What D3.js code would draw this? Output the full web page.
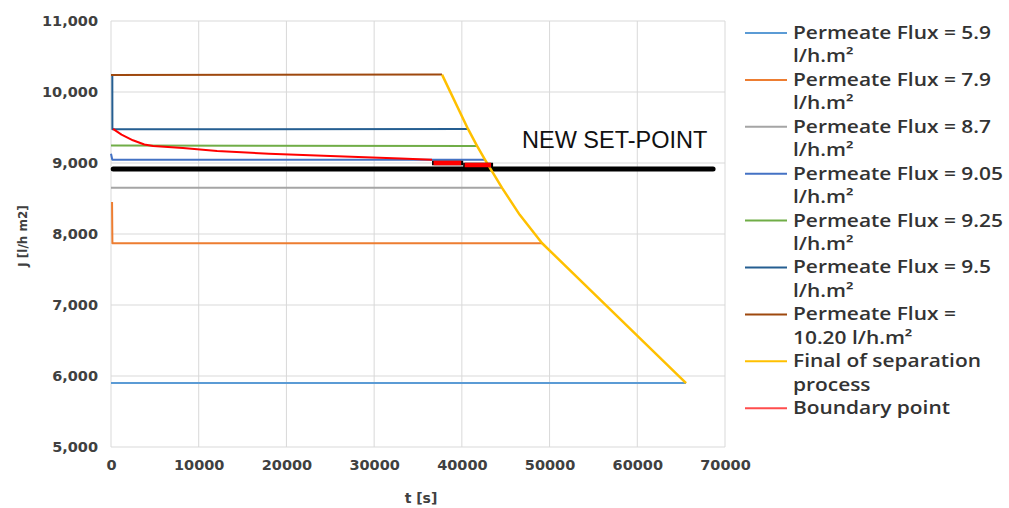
<!DOCTYPE html>
<html>
<head>
<meta charset="utf-8">
<script src="https://cdn.jsdelivr.net/npm/d3@7"></script>
<style>
  body { margin: 0; background: #fff; }
  svg { display: block; }
</style>
</head>
<body>
<div id="chart"></div>
<script>
// axis ticks
const tTicks = [0, 10000, 20000, 30000, 40000, 50000, 60000, 70000];
const jTicks = [5000, 6000, 7000, 8000, 9000, 10000, 11000];

// series, [t (s), J (l/h m2)]
const flux59 = [[0, 5900], [65560, 5900]];
const flux79 = [[120, 8450], [160, 7870], [49150, 7870]];
const flux87 = [[0, 8650], [44580, 8650]];
const flux905 = [[0, 9130], [150, 9045], [42650, 9045]];
const flux925 = [[0, 9245], [41730, 9240]];
const flux95 = [[150, 10240], [160, 9475], [40700, 9480]];
const flux102 = [[0, 10240], [37740, 10245]];
const finalSep = [[37740, 10245], [40700, 9480], [41730, 9240], [42650, 9045], [44580, 8650], [46600, 8270], [49150, 7870], [65560, 5900]];
const boundary = [[230, 9480], [1200, 9400], [2500, 9320], [3800, 9260], [4800, 9240], [8200, 9210],
  [12100, 9170], [18000, 9130], [25000, 9100], [33000, 9065], [36600, 9045]];
const boundaryBars = [[[36600, 9000], [40150, 9000]], [[40150, 8972], [43560, 8972]]];
const setPoint = [[250, 8915], [68640, 8915]];

const seriesNames = ['Permeate Flux = 5.9', 'Permeate Flux = 7.9', 'Permeate Flux = 8.7',
  'Permeate Flux = 9.05', 'Permeate Flux = 9.25', 'Permeate Flux = 9.5', 'Permeate Flux =',
  'Final of separation', 'Boundary point'];
const seriesSub = ['l/h.m²', 'l/h.m²', 'l/h.m²', 'l/h.m²', 'l/h.m²', 'l/h.m²', '10.20 l/h.m²', 'process', ''];
const seriesColors = ['#5B9BD5', '#ED7D31', '#A5A5A5', '#4472C4', '#70AD47', '#255E91', '#9E480E', '#FFC000', '#FF4D4D'];
const seriesData = [flux59, flux79, flux87, flux905, flux925, flux95, flux102, finalSep, boundary];

const width = 1009, height = 508;
const plotLeft = 111, plotRight = 725, plotTop = 21, plotBottom = 447;

const svg = d3.select('#chart').append('svg')
  .attr('width', width)
  .attr('height', height);

const x = d3.scaleLinear().domain([0, 70000]).range([plotLeft, plotRight]);
const y = d3.scaleLinear().domain([5000, 11000]).range([plotBottom, plotTop]);

// grid
svg.append('g').selectAll('line.h').data(jTicks).enter().append('line')
  .attr('x1', plotLeft).attr('x2', plotRight)
  .attr('y1', d => y(d)).attr('y2', d => y(d))
  .attr('stroke', '#d9d9d9').attr('stroke-width', 1);
svg.append('g').selectAll('line.v').data(tTicks).enter().append('line')
  .attr('x1', d => x(d)).attr('x2', d => x(d))
  .attr('y1', plotTop).attr('y2', plotBottom)
  .attr('stroke', '#d9d9d9').attr('stroke-width', 1);

// axes (labels only)
const yAxis = svg.append('g')
  .attr('transform', 'translate(' + plotLeft + ',0)')
  .call(d3.axisLeft(y).tickValues(jTicks).tickSize(0).tickPadding(13).tickFormat(d3.format(',')));
const xAxis = svg.append('g')
  .attr('transform', 'translate(0,' + plotBottom + ')')
  .call(d3.axisBottom(x).tickValues(tTicks).tickSize(0).tickPadding(13).tickFormat(d3.format('d')));
[xAxis, yAxis].forEach(a => {
  a.select('.domain').remove();
  a.selectAll('text')
    .attr('font-family', 'DejaVu Sans')
    .attr('font-weight', 'bold')
    .attr('font-size', 14.5)
    .attr('fill', '#404040');
});

svg.append('text')
  .attr('x', 421).attr('y', 503)
  .attr('text-anchor', 'middle')
  .attr('font-family', 'DejaVu Sans').attr('font-weight', 'bold')
  .attr('font-size', 14).attr('fill', '#404040')
  .text('t [s]');
svg.append('text')
  .attr('transform', 'translate(27,236) rotate(-90)')
  .attr('text-anchor', 'middle')
  .attr('font-family', 'DejaVu Sans').attr('font-weight', 'bold')
  .attr('font-size', 12).attr('fill', '#404040')
  .text('J [l/h m2]');

const line = d3.line()
  .x(d => x(d[0]))
  .y(d => y(d[1]));

// set-point line
svg.append('path')
  .datum(setPoint)
  .attr('fill', 'none')
  .attr('stroke', '#000')
  .attr('stroke-width', 5)
  .attr('stroke-linecap', 'round')
  .attr('d', line);

// series lines (boundary last so it lies on top)
seriesData.forEach((data, i) => {
  svg.append('path')
    .datum(data)
    .attr('fill', 'none')
    .attr('stroke', i === 8 ? '#FF0000' : seriesColors[i])
    .attr('stroke-width', i === 7 ? 2.5 : 2)
    .attr('stroke-linejoin', 'round')
    .attr('d', line);
});

// boundary bars on the set-point
boundaryBars.forEach(seg => {
  svg.append('path')
    .datum(seg)
    .attr('fill', 'none')
    .attr('stroke', '#000')
    .attr('stroke-width', 4.5)
    .attr('d', line);
  svg.append('path')
    .datum(seg)
    .attr('fill', 'none')
    .attr('stroke', '#FF0000')
    .attr('stroke-width', 4.5)
    .attr('d', d3.line().x(d => x(d[0]) + (d === seg[0] ? 1.5 : -2)).y(d => y(d[1])));
});

svg.append('text')
  .attr('x', 522).attr('y', 148)
  .attr('font-family', 'Liberation Sans')
  .attr('font-size', 23.5)
  .attr('fill', '#111')
  .text('NEW SET-POINT');

// legend
const legend = svg.append('g');
const rowStep = 46.9, lineStep = 23.5, legendTop = 33;
const texts = [];
seriesNames.forEach((name, i) => {
  const yy = legendTop + i * rowStep;
  legend.append('line')
    .attr('x1', 745).attr('x2', 787)
    .attr('y1', yy).attr('y2', yy)
    .attr('stroke', seriesColors[i]).attr('stroke-width', 2);
  const t = legend.append('text')
    .attr('font-family', 'Open Sans')
    .attr('font-weight', 600)
    .attr('font-size', 17.5)
    .attr('fill', '#333');
  t.append('tspan').attr('x', 0).attr('y', yy + 6).text(name);
  if (seriesSub[i]) t.append('tspan').attr('x', 0).attr('y', yy + 6 + lineStep).text(seriesSub[i]);
  texts.push(t);
});
// the legend type in the picture is wider than any installed face: stretch to fit
const wRef = texts[3].select('tspan').node().getComputedTextLength();
const k = 210 / wRef;
texts.forEach(t => t.attr('transform', 'translate(793,0) scale(' + k + ',1)'));
</script>
</body>
</html>
